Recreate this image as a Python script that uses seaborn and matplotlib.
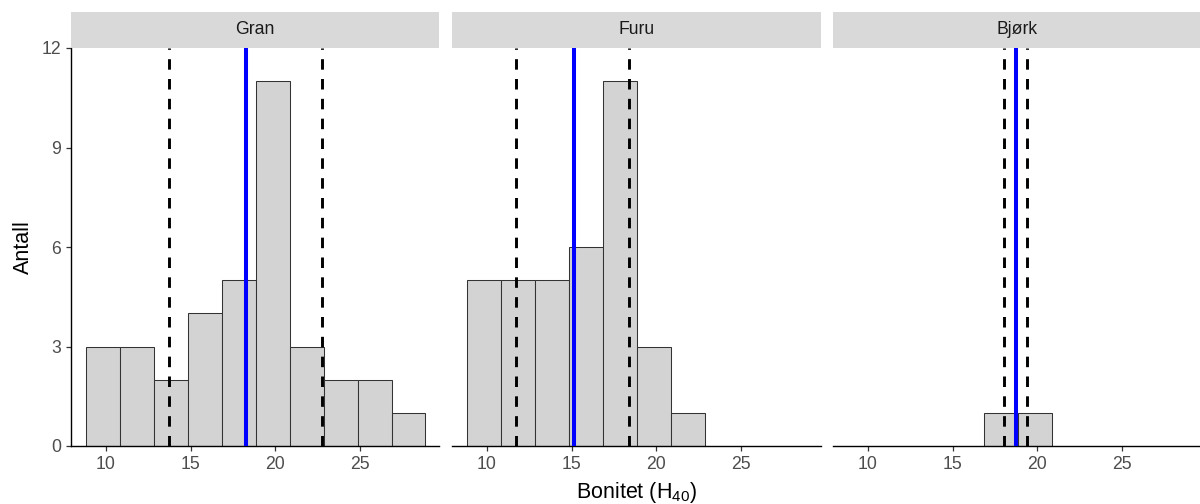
import numpy as np
import pandas as pd
import seaborn as sns
import matplotlib
matplotlib.use("Agg")
import matplotlib.pyplot as plt
from matplotlib.patches import Rectangle

# Tree species shown as facets
species = ["Gran", "Furu", "Bjørk"]

# Histogram counts per 2 m site-index class, first class starting at 8.85
bin_width = 2.0
first_edge = 8.85
gran_counts = [3, 3, 2, 4, 5, 11, 3, 2, 2, 1]
furu_counts = [5, 5, 5, 6, 11, 3, 1]
bjork_counts = [0, 0, 0, 0, 1, 1]

# Mean site index (solid) and mean ± sd (dashed) per species
mean_h40 = [18.28, 15.12, 18.72]
lower_h40 = [13.75, 11.75, 18.05]
upper_h40 = [22.74, 18.41, 19.37]

x_ticks = [10, 15, 20, 25]
y_ticks = [0, 3, 6, 9, 12]

sns.set_theme(style="ticks")
plt.rcParams["font.family"] = ["Liberation Sans", "DejaVu Sans"]
plt.rcParams["mathtext.fontset"] = "custom"
plt.rcParams["mathtext.rm"] = "Liberation Sans"
plt.rcParams["mathtext.it"] = "Liberation Sans:italic"
plt.rcParams["mathtext.bf"] = "Liberation Sans:bold"

# Long table: one row per non-empty class
rows = []
for name, counts in zip(species, [gran_counts, furu_counts, bjork_counts]):
    for i, n in enumerate(counts):
        if n > 0:
            mid = first_edge + bin_width * i + bin_width / 2
            rows.append({"art": name, "mid": mid, "n": n})
df = pd.DataFrame(rows)

g = sns.FacetGrid(df, col="art", col_order=species, sharex=True, sharey=True,
                  height=4, aspect=1.0, despine=True)
fig = g.figure
fig.set_size_inches(12, 5.04)

W, H = 1200, 504
panel_w, pitch = 368.5, 381.0
panel_top, panel_bottom = 48, 446

tick_col = "#4D4D4D"
for k, (ax, name) in enumerate(zip(g.axes.flat, species)):
    sub = df[df["art"] == name]
    lo = sub["mid"].min() - bin_width / 2
    hi = sub["mid"].max() + bin_width / 2
    sns.histplot(data=sub, x="mid", weights="n", binwidth=bin_width,
                 binrange=(lo, hi), color="#D3D3D3", edgecolor="#333333",
                 linewidth=0.75, alpha=1, ax=ax)
    for v in (lower_h40[k], upper_h40[k]):
        ax.axvline(v, color="black", lw=2.1, linestyle=(0, (3.6, 3.2)), zorder=3)
    ax.axvline(mean_h40[k], color="blue", lw=2.9, zorder=4)

    ax.set_xlim(7.95, 29.68)
    ax.set_ylim(0, 12)
    ax.set_xticks(x_ticks)
    ax.set_yticks(y_ticks)
    ax.set_xlabel("")
    ax.set_ylabel("")
    ax.set_title("")
    ax.tick_params(axis="both", length=3.8, width=0.9, color="#333333",
                   labelsize=12.7, labelcolor=tick_col, pad=3.5)
    for sp in ("bottom", "left"):
        ax.spines[sp].set_color("black")
        ax.spines[sp].set_linewidth(1.0)
    if k > 0:
        ax.spines["left"].set_visible(False)
        ax.tick_params(axis="y", left=False, labelleft=False)

    # Facet strip on top of each panel
    strip_h = 36 / (panel_bottom - panel_top)
    ax.add_patch(Rectangle((0, 1), 1, strip_h, transform=ax.transAxes,
                           facecolor="#D9D9D9", edgecolor="none",
                           clip_on=False, zorder=5))
    ax.text(0.5, 1 + strip_h / 2, name, transform=ax.transAxes,
            ha="center", va="center", fontsize=12.7, color="#1A1A1A", zorder=6)

    left = 71 + k * pitch
    ax.set_position([left / W, 1 - panel_bottom / H, panel_w / W,
                     (panel_bottom - panel_top) / H])

fig.text(636 / W, 1 - 498 / H, r"Bonitet (H$_{\mathrm{40}}$)",
         ha="center", va="baseline", fontsize=15.5, color="black")
fig.text(23 / W, 1 - 247 / H, "Antall", rotation=90,
         ha="center", va="center", fontsize=15.5, color="black")

fig.savefig("out.png", dpi=100)
